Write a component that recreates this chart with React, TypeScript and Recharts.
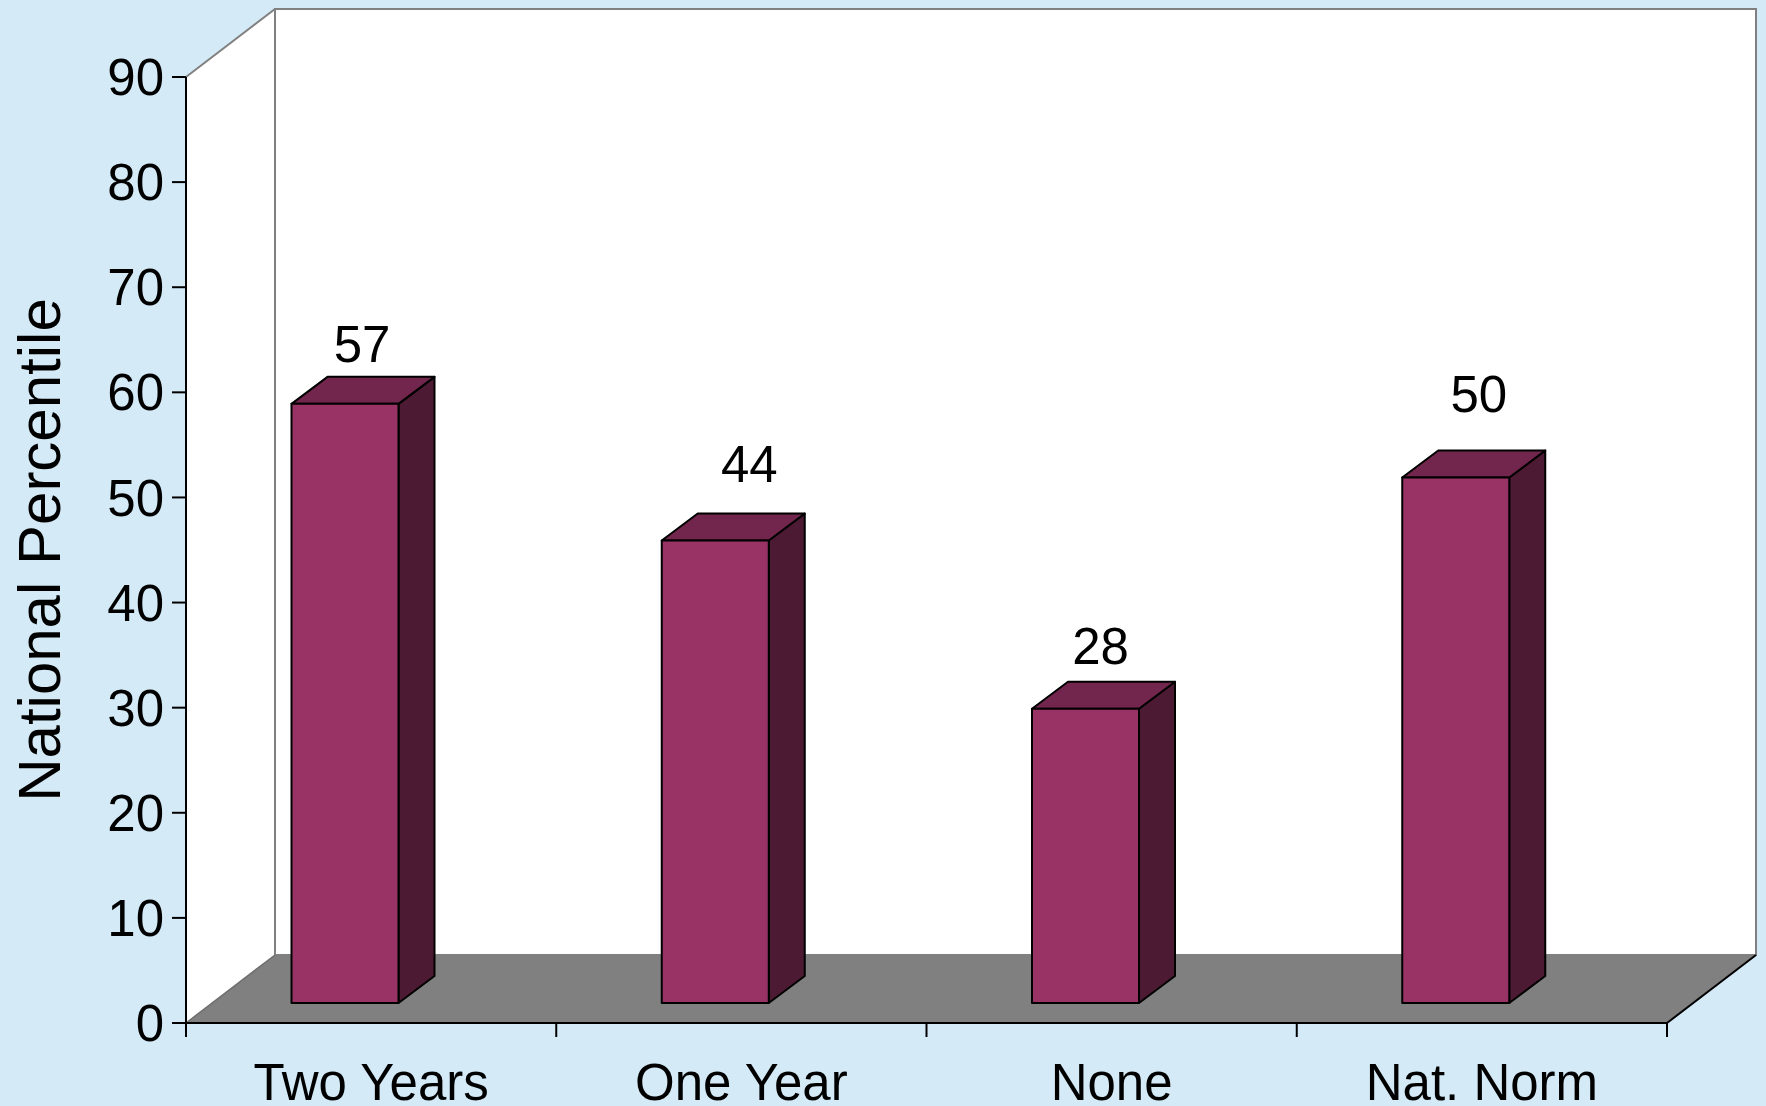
import React from "react";
import { BarChart, Bar, XAxis, YAxis } from "recharts";

// Percentile by years of program attendance
const GROUPS = ["Two Years", "One Year", "None", "Nat. Norm"];
const PERCENTILES = [57, 44, 28, 50];
const Y_TICKS = [0, 10, 20, 30, 40, 50, 60, 70, 80, 90];

const data = GROUPS.map((group, i) => ({ group, percentile: PERCENTILES[i] }));

const WIDTH = 1766;
const HEIGHT = 1106;
const PLOT = { left: 186, top: 77, right: 1667, bottom: 1023 };
const FONT = "'Liberation Sans', Arial, Helvetica, sans-serif";

// fake 3D: how far the back wall sits from the front plane
const WALL = { dx: 89, dy: -68 };
// bars sit halfway into the floor and have their own depth
const BAR_SHIFT = { dx: -26.5, dy: -20 };
const BAR_DEPTH = { dx: 36, dy: -27 };

// hand-placed value labels (offset from the top front edge of each bar)
const LABEL_NUDGE = [
  { dx: 17, lift: 60 },
  { dx: 34, lift: 77 },
  { dx: 15, lift: 63 },
  { dx: 23, lift: 83 },
];

const COLORS = {
  page: "#D4EBF7",
  wall: "#FFFFFF",
  wallEdge: "#808080",
  floor: "#808080",
  front: "#993366",
  top: "#73264D",
  side: "#4D1A33",
};

function Room() {
  const { left, top, right, bottom } = PLOT;
  const bx = left + WALL.dx;
  const by = bottom + WALL.dy;
  const ty = top + WALL.dy;
  const rx = right + WALL.dx;
  const midY = (top + bottom) / 2;
  return (
    <svg width={WIDTH} height={HEIGHT} style={{ position: "absolute", left: 0, top: 0 }}>
      <rect x={0} y={0} width={WIDTH} height={HEIGHT} fill={COLORS.page} />
      {/* side wall */}
      <polygon points={`${left},${top} ${bx},${ty} ${bx},${by} ${left},${bottom}`} fill={COLORS.wall} />
      <line x1={left} y1={top} x2={bx} y2={ty} stroke={COLORS.wallEdge} strokeWidth={2} />
      {/* back wall */}
      <rect x={bx} y={ty} width={rx - bx} height={by - ty} fill={COLORS.wall} stroke={COLORS.wallEdge} strokeWidth={2} />
      {/* floor */}
      <polygon
        points={`${left},${bottom} ${right},${bottom} ${rx},${by} ${bx},${by}`}
        fill={COLORS.floor}
      />
      <line x1={left} y1={bottom} x2={bx} y2={by} stroke="#6E6E6E" strokeWidth={1.5} />
      <line x1={right} y1={bottom} x2={rx} y2={by} stroke="#000" strokeWidth={2} />
      <text
        x={39}
        y={midY}
        transform={`rotate(-90 39 ${midY})`}
        textAnchor="middle"
        dominantBaseline="central"
        fontFamily={FONT}
        fontSize={60}
        fill="#000"
      >
        National Percentile
      </text>
    </svg>
  );
}

function Prism(props: any) {
  const { x, y, width, height, index, payload } = props;
  const fx = x + BAR_SHIFT.dx;
  const fy = y + BAR_SHIFT.dy;
  const { dx, dy } = BAR_DEPTH;
  const nudge = LABEL_NUDGE[index] || { dx: 18, lift: 70 };
  const stroke = { stroke: "#000", strokeWidth: 2, strokeLinejoin: "round" as const };
  return (
    <g>
      <polygon
        points={`${fx + width},${fy} ${fx + width + dx},${fy + dy} ${fx + width + dx},${fy + height + dy} ${fx + width},${fy + height}`}
        fill={COLORS.side}
        {...stroke}
      />
      <polygon
        points={`${fx},${fy} ${fx + dx},${fy + dy} ${fx + width + dx},${fy + dy} ${fx + width},${fy}`}
        fill={COLORS.top}
        {...stroke}
      />
      <rect x={fx} y={fy} width={width} height={height} fill={COLORS.front} {...stroke} />
      <text
        x={fx + width / 2 + nudge.dx}
        y={fy - nudge.lift + 18}
        textAnchor="middle"
        fontFamily={FONT}
        fontSize={51}
        fill="#000"
      >
        {payload.percentile}
      </text>
    </g>
  );
}

function CategoryTick(props: any) {
  const { x, payload, index } = props;
  const half = (PLOT.right - PLOT.left) / GROUPS.length / 2;
  const y0 = PLOT.bottom;
  return (
    <g>
      <line x1={x - half} x2={x - half} y1={y0} y2={y0 + 14} stroke="#000" strokeWidth={2} />
      {index === GROUPS.length - 1 && (
        <line x1={x + half} x2={x + half} y1={y0} y2={y0 + 14} stroke="#000" strokeWidth={2} />
      )}
      <text x={x} y={y0 + 77} textAnchor="middle" fontFamily={FONT} fontSize={51} fill="#000">
        {payload.value}
      </text>
    </g>
  );
}

export default function App() {
  return (
    <div style={{ position: "relative", width: WIDTH, height: HEIGHT, overflow: "hidden" }}>
      <style>{"body{margin:0}"}</style>
      <Room />
      <div style={{ position: "absolute", left: 0, top: 0 }}>
        <BarChart
          width={WIDTH}
          height={HEIGHT}
          data={data}
          margin={{ top: PLOT.top, right: WIDTH - PLOT.right, bottom: 0, left: 0 }}
        >
          <XAxis
            dataKey="group"
            height={HEIGHT - PLOT.bottom}
            interval={0}
            axisLine={{ stroke: "#000", strokeWidth: 2 }}
            tickLine={false}
            tick={<CategoryTick />}
          />
          <YAxis
            type="number"
            domain={[0, 90]}
            ticks={Y_TICKS}
            width={PLOT.left}
            axisLine={{ stroke: "#000", strokeWidth: 2 }}
            tickLine={{ stroke: "#000", strokeWidth: 2 }}
            tickSize={14}
            tickMargin={8}
            tick={{ fill: "#000", fontSize: 51, fontFamily: FONT }}
          />
          <Bar dataKey="percentile" barSize={107} shape={<Prism />} isAnimationActive={false} />
        </BarChart>
      </div>
    </div>
  );
}
